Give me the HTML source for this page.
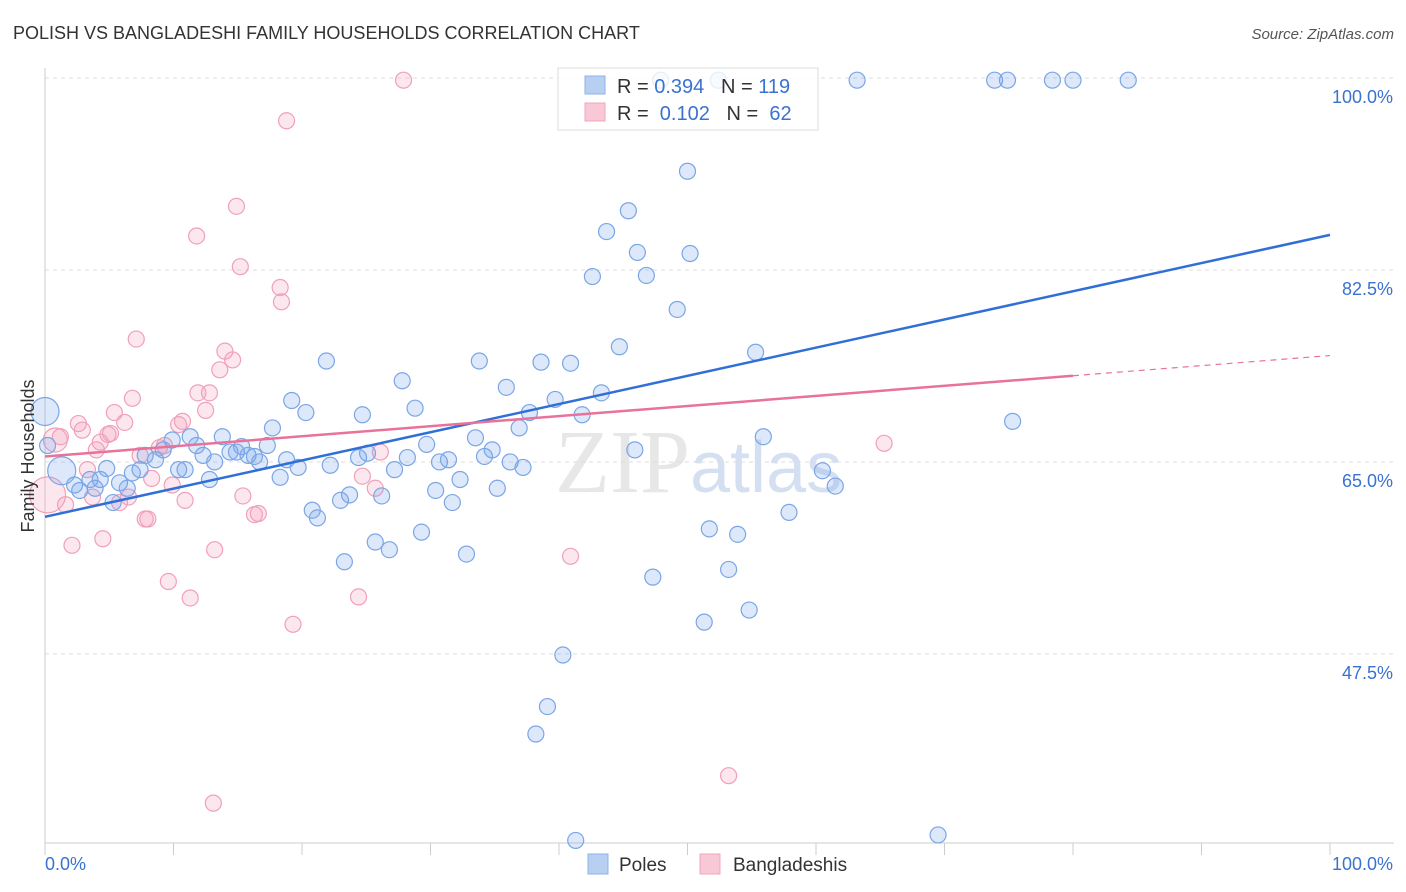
<!DOCTYPE html>
<html><head><meta charset="utf-8"><style>
body{margin:0;background:#fff;font-family:"Liberation Sans",sans-serif}
svg{display:block}
</style></head><body>
<svg id="chart" width="1406" height="892" viewBox="0 0 1406 892" xmlns="http://www.w3.org/2000/svg">
<text x="13" y="39" font-size="18" fill="#333">POLISH VS BANGLADESHI FAMILY HOUSEHOLDS CORRELATION CHART</text>
<text x="1394" y="39" font-size="15" font-style="italic" fill="#555" text-anchor="end">Source: ZipAtlas.com</text>
<text x="555" y="492" font-size="90" font-family="Liberation Serif, serif" fill="#d8d8d8" opacity="0.6">ZIP<tspan fill="#b9cdea" font-family="Liberation Sans, sans-serif" font-size="72">atlas</tspan></text>
<g id="grid"></g>
<g id="axes"></g>
<g id="pts"></g>
<g id="lines"></g>
<text transform="translate(34,456) rotate(-90)" font-size="18" fill="#333" text-anchor="middle">Family Households</text>
<g>
<rect x="558" y="68" width="260" height="62" fill="#fff" fill-opacity="0.8" stroke="#ddd"/>
<rect x="585" y="76" width="20" height="18" fill="#b7d0f2" stroke="#8fb2e6"/>
<rect x="585" y="103" width="20" height="18" fill="#f9c8d6" stroke="#f0a5bb"/>
<text x="617" y="93" font-size="20" fill="#333">R = <tspan fill="#3a72d0">0.394</tspan>&#160;&#160;&#160;N = <tspan fill="#3a72d0">119</tspan></text>
<text x="617" y="120" font-size="20" fill="#333">R = &#160;<tspan fill="#3a72d0">0.102</tspan>&#160;&#160;&#160;N = &#160;<tspan fill="#3a72d0">62</tspan></text>
</g>
<g>
<rect x="588" y="854" width="20" height="20" fill="#b7d0f2" stroke="#8fb2e6"/>
<text x="619" y="871" font-size="19" fill="#333">Poles</text>
<rect x="700" y="854" width="20" height="20" fill="#f9c8d6" stroke="#f0a5bb"/>
<text x="733" y="871" font-size="19" fill="#333">Bangladeshis</text>
</g>
</svg>
<script>
const yTicks=[100,82.5,65,47.5];
const yTickLabels=["100.0%","82.5%","65.0%","47.5%"];
const xEndLabels=["0.0%","100.0%"];
const polesX=[0,0.2,1.3,2.3,2.7,3.5,3.9,4.3,4.8,5.3,5.8,6.4,6.8,7.4,7.8,8.6,9.2,9.9,10.4,10.9,11.3,11.8,12.3,12.8,13.2,13.8,14.4,14.9,15.3,15.8,16.3,16.7,17.3,17.7,18.3,18.8,19.2,19.7,20.3,20.8,21.2,21.9,22.2,23.0,23.3,23.7,24.4,24.7,25.1,25.7,26.2,26.8,27.2,27.8,28.2,28.8,29.3,29.7,30.4,30.7,31.4,31.7,32.3,32.8,33.5,33.8,34.2,34.8,35.2,35.9,36.2,36.9,37.2,37.7,38.6,39.1,39.7,40.3,38.2,40.9,41.3,41.8,42.6,43.3,43.7,44.7,45.4,45.9,46.1,46.8,47.3,47.9,49.2,50.0,50.2,51.3,51.7,52.4,53.2,53.9,54.8,55.3,55.9,57.9,60.5,61.5,63.2,69.5,73.9,74.9,75.3,78.4,80.0,84.3];
const polesY=[69.6,66.5,64.2,62.9,62.4,63.4,62.6,63.4,64.4,61.3,63.1,62.6,64.0,64.3,65.6,65.2,66.1,67.0,64.3,64.3,67.3,66.5,65.6,63.4,65.0,67.3,65.9,65.9,66.4,65.6,65.5,65.0,66.5,68.1,63.6,65.2,70.6,64.5,69.5,60.6,59.9,74.2,64.7,61.5,55.9,62.0,65.4,69.3,65.8,57.7,61.9,57.0,64.3,72.4,65.4,69.9,58.6,66.6,62.4,65.0,65.2,61.3,63.4,56.6,67.2,74.2,65.5,66.1,62.6,71.8,65.0,68.1,64.5,69.5,74.1,42.7,70.7,47.4,40.2,74.0,30.5,69.3,81.9,71.3,86.0,75.5,87.9,66.1,84.1,82.0,54.5,99.8,78.9,91.5,84.0,50.4,58.9,99.8,55.2,58.4,51.5,75.0,67.3,60.4,64.2,62.8,99.8,31.0,99.8,99.8,68.7,99.8,99.8,99.8];
const bangX=[0.2,0.8,1.2,1.6,2.1,2.6,2.9,3.3,3.7,4.0,4.3,4.5,4.9,5.1,5.4,5.8,6.2,6.5,6.8,7.1,7.4,7.8,8.0,8.3,8.9,9.3,9.6,9.9,10.4,10.7,10.9,11.3,11.8,11.9,12.5,12.8,13.1,13.2,13.6,14.0,14.6,14.9,15.2,15.4,16.3,16.6,18.3,18.4,18.8,19.3,24.4,24.7,25.7,26.1,27.9,40.9,53.2,65.3];
const bangY=[62.0,67.0,67.3,61.1,57.4,68.5,67.9,64.3,61.8,66.1,66.8,58.0,67.5,67.6,69.5,61.3,68.6,61.8,70.8,76.2,65.6,59.8,59.8,63.5,66.3,66.5,54.1,62.9,68.4,68.7,61.5,52.6,85.6,71.3,69.7,71.3,33.9,57.0,73.4,75.1,74.3,88.3,82.8,61.9,60.2,60.3,80.9,79.6,96.1,50.2,52.7,63.7,62.6,65.9,99.8,56.4,36.4,66.7];
const polesTrend=[60.0,85.7];
const bangTrend=[65.5,74.7];
const bangSolidEnd=80;

const NS="http://www.w3.org/2000/svg";
const X=v=>45+v*12.85;
const Y=v=>78+(100-v)*10.97;
function mk(tag,attrs,parent){const e=document.createElementNS(NS,tag);for(const k in attrs)e.setAttribute(k,attrs[k]);parent.appendChild(e);return e;}
const grid=document.getElementById('grid'),axes=document.getElementById('axes'),pts=document.getElementById('pts'),lines=document.getElementById('lines');
yTicks.forEach((t,i)=>{
  const l=mk('line',{x1:45,x2:1394,y1:Y(t),y2:Y(t),stroke:'#ddd','stroke-dasharray':'4,4'},grid);
  
  
  const tx=mk('text',{x:1393,y:Y(t)+25,'font-size':18,fill:'#3a72d0','text-anchor':'end'},axes);
  tx.textContent=yTickLabels[i];
  
  
});
const xl=mk('line',{x1:45,x2:1394,y1:843,y2:843,stroke:'#ccc'},axes);


const yl=mk('line',{x1:45,x2:45,y1:68,y2:843,stroke:'#ccc'},axes);


for(let i=0;i<=10;i++){
  const t=mk('line',{x1:X(i*10),x2:X(i*10),y1:843,y2:855,stroke:'#ccc'},axes);
  
  
}
[[0,'start',45],[1,'end',1393]].forEach(([i,a,x])=>{
  const t=mk('text',{x:x,y:870,'font-size':18,fill:'#3a72d0','text-anchor':a},axes);
  t.textContent=xEndLabels[i];
  
  
});
function big(xs,ys,i,arr){return arr.some(p=>p[0]===xs[i]&&p[1]===ys[i]);}
bangX.forEach((v,i)=>{
  let r=8; if(i===0)r=18; if(i===1)r=12;
  const c=mk('circle',{cx:X(v),cy:Y(bangY[i]),r:r,fill:'rgba(244,160,188,0.25)',stroke:'#f0a0b9','stroke-width':1.2},pts);
  
  
});
polesX.forEach((v,i)=>{
  let r=8; if(i===0)r=14; if(i===2)r=14;
  const c=mk('circle',{cx:X(v),cy:Y(polesY[i]),r:r,fill:'rgba(120,165,235,0.25)',stroke:'#7aa6e6','stroke-width':1.2},pts);
  
  
});
const pl=mk('line',{x1:X(0),y1:Y(polesTrend[0]),x2:X(100),y2:Y(polesTrend[1]),stroke:'#2f6fd6','stroke-width':2.5},lines);


const bm=bangTrend[0]+(bangTrend[1]-bangTrend[0])*bangSolidEnd/100;
const bl=mk('line',{x1:X(0),y1:Y(bangTrend[0]),x2:X(bangSolidEnd),y2:Y(bm),stroke:'#e8739a','stroke-width':2.5},lines);


const bd=mk('line',{x1:X(bangSolidEnd),y1:Y(bm),x2:X(100),y2:Y(bangTrend[1]),stroke:'#e8739a','stroke-width':1.2,'stroke-dasharray':'6,5'},lines);


</script>
</body></html>
